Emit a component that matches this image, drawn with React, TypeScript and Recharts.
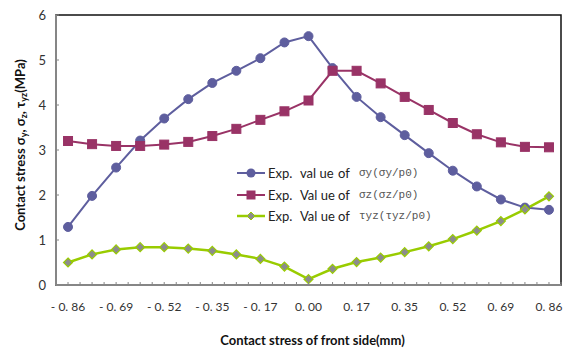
import { LineChart, Line, XAxis, YAxis, Legend, ReferenceArea } from 'recharts';

// x positions along the front side (mm)
const POSITIONS = [
  '-0.86', '-0.77', '-0.69', '-0.60', '-0.52', '-0.43', '-0.35', '-0.26', '-0.17', '-0.09', '0.00',
  '0.09', '0.17', '0.26', '0.35', '0.43', '0.52', '0.60', '0.69', '0.77', '0.86',
];

const SIGMA_Y = [1.29, 1.98, 2.61, 3.21, 3.70, 4.13, 4.49, 4.76, 5.04, 5.39, 5.53, 4.82, 4.18, 3.73, 3.33, 2.93, 2.54, 2.19, 1.90, 1.72, 1.67];
const SIGMA_Z = [3.20, 3.13, 3.09, 3.09, 3.12, 3.18, 3.31, 3.47, 3.67, 3.86, 4.10, 4.76, 4.76, 4.48, 4.18, 3.89, 3.60, 3.35, 3.17, 3.07, 3.06];
const TAU_YZ = [0.50, 0.68, 0.79, 0.84, 0.84, 0.81, 0.76, 0.68, 0.58, 0.41, 0.13, 0.36, 0.51, 0.61, 0.73, 0.86, 1.02, 1.21, 1.42, 1.68, 1.97];

const Y_TICKS = [0, 1, 2, 3, 4, 5, 6];

const LEGEND_ROWS = [
  { key: 'sy', word: 'val ue', formula: 'σy(σy/p0)' },
  { key: 'sz', word: 'Val ue', formula: 'σz(σz/p0)' },
  { key: 'tyz', word: 'Val ue', formula: 'τyz(τyz/p0)' },
];

const data = POSITIONS.map((p, i) => ({ pos: p, sy: SIGMA_Y[i], sz: SIGMA_Z[i], tyz: TAU_YZ[i] }));

const BLUE = '#5E5E9E';
const RED = '#993366';
const GREEN = '#99CC00';
const DIAMOND_FILL = '#8C8C8C';
const AXIS = '#868686';
const FONT = 'Lato, "Liberation Sans", sans-serif';

const fmtPos = (v: string) => v.replace('-', '- ').replace('.', '. ');

// markers
const SquareDot = (props: any) => {
  const { cx, cy } = props;
  if (cx == null || cy == null) return null;
  return <rect x={cx - 4.5} y={cy - 4.5} width={9} height={9} fill={RED} stroke={RED} />;
};

const DiamondDot = (props: any) => {
  const { cx, cy } = props;
  if (cx == null || cy == null) return null;
  const r = 4.5;
  return (
    <polygon
      points={`${cx},${cy - r} ${cx + r},${cy} ${cx},${cy + r} ${cx - r},${cy}`}
      fill={DIAMOND_FILL}
      stroke={GREEN}
      strokeWidth={1.2}
    />
  );
};

// x ticks: labels on every other category, tick marks at centres and band edges
const XTick = (props: any) => {
  const { x, y, payload, index } = props;
  const half = payload?.offset || 12;
  const axisY = y - 17;
  return (
    <g>
      <line x1={x} x2={x} y1={axisY} y2={axisY - 3} stroke={AXIS} />
      <line x1={x + half} x2={x + half} y1={axisY} y2={axisY - 3} stroke={AXIS} />
      {index % 2 === 0 && (
        <text x={x} y={y} dy="0.71em" textAnchor="middle" fontFamily={FONT} fontSize={12} fill="#333">
          {fmtPos(payload.value)}
        </text>
      )}
    </g>
  );
};

const YTitle = (props: any) => {
  const vb = props.viewBox || {};
  const cx = (vb.x || 0) + 20;
  const cy = (vb.y || 0) + vb.height / 2 - 5;
  return (
    <text
      x={cx}
      y={cy}
      transform={`rotate(-90 ${cx} ${cy})`}
      textAnchor="middle"
      dominantBaseline="central"
      fontFamily={FONT}
      fontWeight="bold"
      fontSize={13}
      fill="#111"
    >
      <tspan>Contact stress σ</tspan>
      <tspan fontSize={9} dy={3}>y</tspan>
      <tspan dy={-3}>, σ</tspan>
      <tspan fontSize={9} dy={3}>z</tspan>
      <tspan dy={-3}>, τ</tspan>
      <tspan fontSize={9} dy={3}>yz</tspan>
      <tspan dy={-3}>(MPa)</tspan>
    </text>
  );
};

const XTitle = (props: any) => {
  const vb = props.viewBox || {};
  return (
    <text
      x={vb.x + vb.width / 2 + 4}
      y={345}
      textAnchor="middle"
      fontFamily={FONT}
      fontWeight="bold"
      fontSize={13}
      fill="#111"
    >
      Contact stress of front side(mm)
    </text>
  );
};

const LegendIcon = ({ k }: { k: string }) => (
  <svg width={28} height={12} style={{ display: 'block' }}>
    {k === 'sy' && (
      <>
        <line x1={0} x2={28} y1={6} y2={6} stroke={BLUE} strokeWidth={2} />
        <circle cx={14} cy={6} r={4.5} fill={BLUE} />
      </>
    )}
    {k === 'sz' && (
      <>
        <line x1={0} x2={28} y1={6} y2={6} stroke={RED} strokeWidth={2} />
        <rect x={9.5} y={1.5} width={9} height={9} fill={RED} />
      </>
    )}
    {k === 'tyz' && (
      <>
        <line x1={0} x2={28} y1={6} y2={6} stroke={GREEN} strokeWidth={2.5} />
        <polygon points="14,2 18,6 14,10 10,6" fill={DIAMOND_FILL} stroke={GREEN} />
      </>
    )}
  </svg>
);

const LegendContent = () => (
  <div style={{ fontFamily: FONT, fontSize: 13, color: '#222' }}>
    {LEGEND_ROWS.map((r) => (
      <div key={r.key} style={{ display: 'flex', alignItems: 'center', height: 21.5, whiteSpace: 'pre' }}>
        <LegendIcon k={r.key} />
        <span style={{ width: 32, marginLeft: 3 }}>Exp.</span>
        <span style={{ width: 38 }}>{r.word}</span>
        <span style={{ width: 21 }}>of</span>
        <span style={{ fontFamily: '"Liberation Mono", monospace', fontSize: 11, color: '#555' }}>{r.formula}</span>
      </div>
    ))}
  </div>
);

export default function App() {
  return (
    <div style={{ position: 'absolute', left: 0, top: 0, background: '#fff' }}>
      <LineChart width={574} height={351} data={data} margin={{ top: 15, right: 13, left: 0, bottom: 36 }}>
        <ReferenceArea y1={0} y2={6} fill="none" stroke="#111" strokeWidth={1.5} />
        <XAxis
          dataKey="pos"
          scale="band"
          interval={0}
          height={30}
          tickLine={false}
          tickSize={0}
          tickMargin={17}
          tick={<XTick />}
          axisLine={{ stroke: AXIS, strokeWidth: 2 }}
          label={<XTitle />}
        />
        <YAxis
          domain={[0, 6]}
          ticks={Y_TICKS}
          width={56}
          tickSize={-3}
          tickMargin={13}
          tickLine={{ stroke: AXIS }}
          axisLine={{ stroke: AXIS, strokeWidth: 2 }}
          tick={{ fontFamily: FONT, fontSize: 13, fill: '#333' }}
          label={<YTitle />}
        />
        <Legend
          layout="horizontal"
          verticalAlign="middle"
          align="center"
          content={<LegendContent />}
          wrapperStyle={{ position: 'absolute', left: 237, top: 162.5, width: 220 }}
        />
        <Line
          dataKey="sy"
          stroke={BLUE}
          strokeWidth={2}
          dot={{ r: 4.5, fill: BLUE, stroke: BLUE, strokeWidth: 1 }}
          isAnimationActive={false}
        />
        <Line dataKey="sz" stroke={RED} strokeWidth={2} dot={<SquareDot />} isAnimationActive={false} />
        <Line dataKey="tyz" stroke={GREEN} strokeWidth={2.5} dot={<DiamondDot />} isAnimationActive={false} />
      </LineChart>
    </div>
  );
}
